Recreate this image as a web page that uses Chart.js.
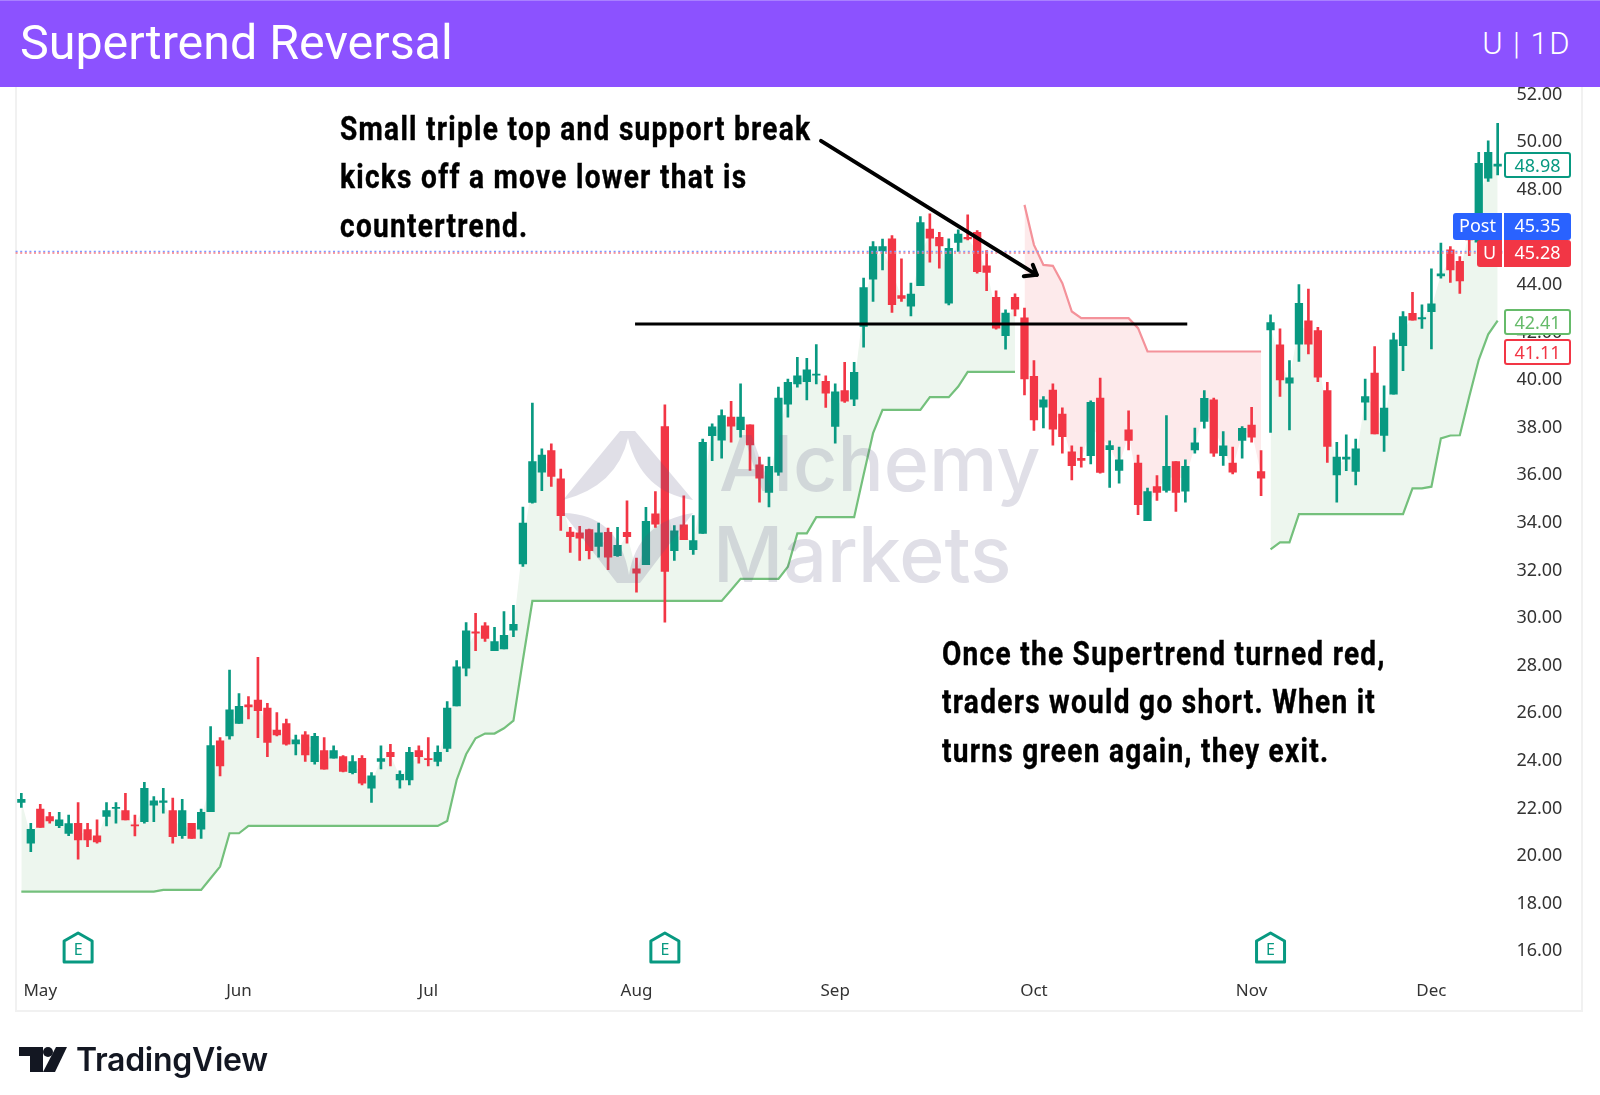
<!DOCTYPE html>
<html>
<head>
<meta charset="utf-8">
<title>Supertrend Reversal</title>
<script src="https://cdn.jsdelivr.net/npm/chart.js@4"></script>
<style>
  html, body { margin: 0; padding: 0; background: #fff; }
  #page { position: relative; width: 1600px; height: 1095px; overflow: hidden; background: #fff; }
  #chart { position: absolute; left: 0; top: 0; }
  .header { position: absolute; left: 0; top: 0; width: 1600px; height: 87px; background: #8c52ff; color: #fff; font-family: Roboto, sans-serif; border-top: 1px solid #a980ff; box-sizing: border-box; }
  .header .title { position: absolute; left: 20px; top: 12px; font-size: 48.4px; line-height: 60px; }
  .header .sym { position: absolute; right: 29px; top: 22px; font-size: 31px; line-height: 42px; letter-spacing: 1.5px; font-weight: 300; }
  .card { position: absolute; left: 15px; top: 87px; width: 1568px; height: 925px; border: solid #f1f1f1; border-width: 0 2px 2px 2px; box-sizing: border-box; }
  .note { position: absolute; font: 700 33px/48.3px Roboto, sans-serif; color: #000; white-space: nowrap; letter-spacing: 1.5px; -webkit-text-stroke: 0.4px #000; transform-origin: 0 0; transform: scaleX(0.85); }
  .wm { position: absolute; font: 500 77px/100px Inter, sans-serif; color: rgba(88, 84, 130, 0.19); white-space: nowrap; }
  .logo { position: absolute; left: 563px; top: 430px; }
  .tag { position: absolute; box-sizing: border-box; font: 18px/24px "Noto Sans", sans-serif; text-align: center; border-radius: 3px; }
  .footer { position: absolute; left: 76px; top: 1038px; font: 600 32px/44px Inter, sans-serif; color: #131722; letter-spacing: -0.3px; }
</style>
</head>
<body>
<div id="page">
  <div class="card"></div>
  <canvas id="chart" width="1600" height="1095"></canvas>

  <svg class="logo" width="140" height="160" viewBox="0 0 140 160">
    <path d="M57 1 L72 1 L130 70 Q78 62 65 8 Q54 56 0 70 Z" fill="rgba(88,84,130,0.19)"/>
    <path d="M0 83 Q56 84 66 145 Q74 92 130 83 L77 153 L54 153 Z" fill="rgba(88,84,130,0.19)"/>
  </svg>
  <div class="wm" style="left:719px;top:413px">Alchemy</div>
  <div class="wm" style="left:713px;top:504px">Markets</div>

  <div class="note" style="left:340px;top:105px">Small triple top and support break<br>kicks off a move lower that is<br>countertrend.</div>
  <div class="note" style="left:942px;top:630px">Once the Supertrend turned red,<br>traders would go short. When it<br>turns green again, they exit.</div>

  <div class="tag" style="left:1504px;top:152px;width:67px;height:26px;background:#fff;border:2px solid #089981;color:#089981;line-height:23px">48.98</div>
  <div class="tag" style="left:1453px;top:213px;width:49px;height:27px;background:#2962ff;color:#fff;border-radius:3px 0 0 3px">Post</div>
  <div class="tag" style="left:1504px;top:213px;width:67px;height:27px;background:#2962ff;color:#fff;border-radius:0 3px 3px 0">45.35</div>
  <div class="tag" style="left:1477px;top:240px;width:25px;height:27px;background:#f23645;color:#fff;border-radius:3px 0 0 3px">U</div>
  <div class="tag" style="left:1504px;top:240px;width:67px;height:27px;background:#f23645;color:#fff;border-radius:0 3px 3px 0">45.28</div>
  <div class="tag" style="left:1504px;top:309px;width:67px;height:26px;background:#fff;border:2px solid #66bb6a;color:#66bb6a;line-height:23px">42.41</div>
  <div class="tag" style="left:1504px;top:339px;width:67px;height:26px;background:#fff;border:2px solid #f23645;color:#f23645;line-height:23px">41.11</div>

  <div class="header">
    <div class="title">Supertrend Reversal</div>
    <div class="sym">U | 1D</div>
  </div>

  <svg style="position:absolute;left:19px;top:1047px" width="48" height="26" viewBox="0 0 48 26">
    <path d="M0 0 H24 V25 H11 V9 H0 Z" fill="#131722"/>
    <circle cx="29" cy="5" r="5" fill="#131722"/>
    <path d="M37 0 H48 L36 25 H24 Z" fill="#131722"/>
  </svg>
  <div class="footer">TradingView</div>
</div>

<script>
// U daily candles, May to mid December
const opens = [
  22.17,20.45,21.89,21.57,21.19,20.86,21.29,21.02,20.76,21.58,
  21.91,21.82,21.22,21.36,22.05,22.17,21.82,20.77,21.29,21.04,
  21.78,24.75,24.96,25.49,26.27,26.47,26.13,25.21,25.48,24.62,
  25.01,23.88,24.34,24.02,24.09,23.42,24.02,22.77,23.89,24.27,
  23.11,23.11,24.34,24.01,23.89,24.43,26.22,27.81,29.33,29.58,
  28.54,28.61,29.40,32.19,34.77,36.04,36.95,35.76,33.52,33.49,
  33.63,32.92,33.51,32.53,33.51,31.98,32.15,34.29,37.96,32.74,
  33.83,32.78,33.47,37.57,37.38,38.35,37.83,38.03,36.35,35.19,
  36.04,38.90,39.75,39.84,40.12,39.86,37.96,39.47,39.11,42.16,
  44.15,45.34,45.84,43.46,43.01,43.88,46.25,45.91,43.14,45.69,
  45.91,46.12,44.71,43.39,41.77,43.39,42.52,40.07,38.77,39.49,
  38.48,36.90,36.62,36.73,39.15,36.99,36.11,37.82,36.42,34.00,
  35.44,35.27,36.49,35.24,36.98,38.17,39.08,36.73,36.42,37.37,
  38.02,36.07,42.02,41.39,39.78,41.42,42.40,41.99,39.47,35.93,
  36.59,36.07,38.98,40.20,37.58,39.32,41.36,42.71,42.48,42.78,
  44.29,45.38,44.90,46.40,45.70,48.39,48.90,
];
const highs = [
  22.55,21.29,22.09,21.75,21.75,21.63,22.16,21.29,21.43,22.16,
  22.16,22.55,21.63,23.01,22.41,22.76,22.35,22.30,21.29,21.89,
  25.35,24.89,27.73,26.74,26.61,28.26,26.33,25.94,25.67,25.00,
  25.14,25.07,24.89,24.54,24.13,24.13,24.13,23.42,24.54,24.61,
  23.49,24.48,24.54,24.89,24.54,26.40,28.12,29.72,30.11,29.72,
  29.52,30.18,30.45,34.57,38.94,37.02,37.23,36.17,33.72,33.76,
  33.65,33.90,33.69,33.72,34.84,32.43,34.56,35.23,38.87,33.80,
  35.05,34.22,37.43,38.07,38.66,39.02,39.75,38.03,36.67,36.67,
  39.61,39.95,40.87,40.82,41.40,40.09,39.75,40.66,40.66,44.19,
  45.73,45.83,45.98,45.00,43.98,46.78,46.89,46.12,45.84,46.22,
  46.85,46.19,45.35,43.66,42.86,43.53,42.93,40.73,39.22,39.75,
  38.74,37.15,37.09,39.04,39.99,37.36,37.09,38.62,36.76,35.37,
  35.90,38.42,36.49,36.56,37.89,39.47,39.15,37.75,37.09,37.96,
  38.76,36.95,42.65,42.06,40.73,43.92,43.73,42.13,39.81,37.29,
  37.61,37.43,39.95,41.32,39.67,41.88,42.79,43.60,43.07,44.58,
  45.66,45.52,45.10,46.60,49.48,49.96,50.70,
];
const lows = [
  21.96,20.10,21.12,21.29,21.11,20.77,19.78,20.31,20.45,21.18,
  21.29,21.43,20.76,21.29,21.36,21.71,20.45,20.65,20.65,20.65,
  21.78,23.28,24.82,25.49,25.67,24.89,24.09,24.96,24.57,24.16,
  23.89,23.77,23.56,24.02,23.45,23.36,22.90,22.17,23.57,23.70,
  22.76,22.90,23.82,23.70,23.70,24.30,26.22,27.48,28.54,28.93,
  28.54,28.61,29.13,32.08,34.74,35.26,35.44,33.59,32.67,32.33,
  32.40,32.47,31.94,32.50,33.06,31.00,32.15,33.72,29.74,32.33,
  33.20,32.58,33.47,36.52,36.63,37.30,37.51,36.11,34.78,34.58,
  35.90,38.35,39.61,39.08,39.75,38.76,37.26,38.97,38.83,41.29,
  43.21,44.54,42.75,43.21,42.61,43.88,44.86,44.61,43.07,45.31,
  45.80,44.40,43.67,42.05,41.21,42.61,39.29,37.79,37.90,37.18,
  36.84,35.72,36.25,36.39,36.00,35.40,35.58,36.98,34.26,34.00,
  34.85,35.20,34.39,34.78,36.84,37.89,36.70,36.32,35.97,36.63,
  37.30,35.05,37.71,39.22,37.82,40.69,41.01,39.84,36.45,34.78,
  36.10,35.51,38.24,37.65,36.91,39.32,40.30,42.43,42.08,41.22,
  44.19,44.01,43.55,45.14,45.60,48.26,48.53,
];
const closes = [
  22.30,21.04,21.12,21.39,21.43,21.28,20.59,20.59,20.51,21.82,
  21.96,21.43,21.18,22.76,22.23,22.23,20.73,21.82,20.65,21.75,
  24.55,23.70,26.06,26.20,26.18,26.02,24.69,25.00,24.61,24.80,
  24.16,24.94,23.56,24.34,23.47,23.88,22.97,23.28,24.01,24.09,
  23.35,24.27,24.09,23.96,24.27,26.13,27.86,29.38,29.28,29.06,
  28.92,29.19,29.65,33.90,36.49,36.76,35.86,34.21,33.33,33.27,
  32.74,33.49,32.47,32.97,33.33,31.80,33.97,33.86,31.87,33.58,
  33.20,33.17,37.29,37.95,38.42,37.97,38.35,37.19,35.79,36.29,
  39.15,39.81,40.09,40.34,40.16,39.36,39.42,39.02,40.23,43.80,
  45.52,45.52,43.08,43.34,43.52,46.53,45.87,45.55,45.44,46.04,
  45.84,44.46,44.43,42.09,42.72,42.89,39.96,38.24,39.08,37.85,
  37.53,36.31,36.53,38.97,36.03,37.16,36.56,37.37,34.67,35.23,
  35.19,36.29,35.19,36.29,37.27,39.14,36.84,37.15,36.04,37.88,
  37.51,35.79,42.33,39.92,40.00,43.13,41.42,40.03,37.12,36.67,
  36.67,37.02,39.22,37.65,38.73,41.60,42.58,42.43,42.54,43.11,
  44.37,44.54,44.08,45.80,49.02,49.48,48.98,
];

// Supertrend, null where the other side is active
const supertrendUp = [
  18.42,18.42,18.42,18.42,18.42,18.42,18.42,18.42,18.42,18.42,
  18.42,18.42,18.42,18.42,18.42,18.49,18.49,18.49,18.49,18.49,
  18.98,19.47,20.87,20.87,21.18,21.18,21.18,21.18,21.18,21.18,
  21.18,21.18,21.18,21.18,21.18,21.18,21.18,21.18,21.18,21.18,
  21.18,21.18,21.18,21.18,21.18,21.39,23.11,24.19,24.86,25.06,
  25.06,25.28,25.60,28.15,30.63,30.63,30.63,30.63,30.63,30.63,
  30.63,30.63,30.63,30.63,30.63,30.63,30.63,30.63,30.63,30.63,
  30.63,30.63,30.63,30.63,30.63,31.09,31.56,31.56,31.56,31.56,
  31.56,32.07,33.47,33.47,34.15,34.15,34.15,34.15,34.15,35.93,
  37.68,38.66,38.66,38.66,38.66,38.66,39.19,39.19,39.19,39.64,
  40.25,40.25,40.25,40.25,40.25,40.25,null,null,null,null,
  null,null,null,null,null,null,null,null,null,null,
  null,null,null,null,null,null,null,null,null,null,
  null,null,32.80,33.09,33.09,34.28,34.28,34.28,34.28,34.28,
  34.28,34.28,34.28,34.28,34.28,34.28,34.28,35.36,35.36,35.43,
  37.46,37.58,37.59,39.22,40.76,41.83,42.41,
];
const supertrendDown = [
  null,null,null,null,null,null,null,null,null,null,
  null,null,null,null,null,null,null,null,null,null,
  null,null,null,null,null,null,null,null,null,null,
  null,null,null,null,null,null,null,null,null,null,
  null,null,null,null,null,null,null,null,null,null,
  null,null,null,null,null,null,null,null,null,null,
  null,null,null,null,null,null,null,null,null,null,
  null,null,null,null,null,null,null,null,null,null,
  null,null,null,null,null,null,null,null,null,null,
  null,null,null,null,null,null,null,null,null,null,
  null,null,null,null,null,null,47.27,45.59,44.75,44.71,
  43.98,42.79,42.51,42.51,42.51,42.51,42.51,42.51,42.09,41.11,
  41.11,41.11,41.11,41.11,41.11,41.11,41.11,41.11,41.11,41.11,
  41.11,41.11,null,null,null,null,null,null,null,null,
  null,null,null,null,null,null,null,null,null,null,
  null,null,null,null,null,null,null,
];

const monthLabels = ['May', 'Jun', 'Jul', 'Aug', 'Sep', 'Oct', 'Nov', 'Dec'];
const monthBars = [2, 23, 43, 65, 86, 107, 130, 149];
const earningsBars = [6, 68, 132];
const yTicksStep = 2;
const lastPrice = 45.28;
const supportPrice = 42.27;
const supportFrom = 64.85, supportTo = 123.2;
const arrowFrom = [84.5, 49.96], arrowTo = [107.3, 44.33];

const up = '#089981', down = '#f23645';
const bodyColors = closes.map((c, i) => (c >= opens[i] ? up : down));
const bars = closes.map((_, i) => i);
const mid = (line) => line.map((v, i) => (v === null ? null : (opens[i] + closes[i]) / 2));

const annotations = {
  id: 'annotations',
  afterDatasetsDraw(chart) {
    const { ctx, scales: { x, y }, chartArea } = chart;
    ctx.save();

    // last price dotted lines, the post one (blue) sits just over the red one
    const py = y.getPixelForValue(lastPrice);
    ctx.lineWidth = 1.4;
    ctx.setLineDash([2, 2.6]);
    ctx.strokeStyle = '#7f98ff';
    ctx.beginPath(); ctx.moveTo(chartArea.left - 1, py - 0.7); ctx.lineTo(chartArea.right, py - 0.7); ctx.stroke();
    ctx.strokeStyle = '#f57f88';
    ctx.beginPath(); ctx.moveTo(chartArea.left - 1, py + 0.7); ctx.lineTo(chartArea.right, py + 0.7); ctx.stroke();
    ctx.setLineDash([]);

    // support line
    const sy = y.getPixelForValue(supportPrice);
    ctx.strokeStyle = '#000';
    ctx.lineWidth = 3;
    ctx.beginPath();
    ctx.moveTo(x.getPixelForValue(supportFrom), sy);
    ctx.lineTo(x.getPixelForValue(supportTo), sy);
    ctx.stroke();

    // arrow
    const ax = x.getPixelForValue(arrowFrom[0]), ay = y.getPixelForValue(arrowFrom[1]);
    const bx = x.getPixelForValue(arrowTo[0]), by = y.getPixelForValue(arrowTo[1]);
    ctx.lineWidth = 4;
    ctx.lineCap = 'round';
    ctx.lineJoin = 'round';
    ctx.beginPath(); ctx.moveTo(ax, ay); ctx.lineTo(bx, by); ctx.stroke();
    ctx.beginPath(); ctx.moveTo(bx - 13, by + 1.5); ctx.lineTo(bx, by); ctx.lineTo(bx - 4, by - 10); ctx.stroke();

    // earnings flags
    earningsBars.forEach((b) => {
      const cx = x.getPixelForValue(b), t = 933, bot = 962, hw = 14;
      ctx.strokeStyle = up;
      ctx.lineWidth = 3;
      ctx.beginPath();
      ctx.moveTo(cx, t);
      ctx.lineTo(cx + hw, t + 8);
      ctx.lineTo(cx + hw, bot);
      ctx.lineTo(cx - hw, bot);
      ctx.lineTo(cx - hw, t + 8);
      ctx.closePath();
      ctx.stroke();
      ctx.fillStyle = up;
      ctx.font = '16px "Noto Sans", sans-serif';
      ctx.textAlign = 'center';
      ctx.textBaseline = 'middle';
      ctx.fillText('E', cx, 950);
    });
    ctx.restore();
  },
};

new Chart(document.getElementById('chart'), {
  type: 'bar',
  data: {
    labels: bars,
    datasets: [
      { type: 'line', label: 'Supertrend up', data: supertrendUp, borderColor: '#74c07c', borderWidth: 2.2, pointRadius: 0, tension: 0, spanGaps: false, order: 4 },
      { type: 'line', label: 'Supertrend down', data: supertrendDown, borderColor: '#f4929a', borderWidth: 2.2, pointRadius: 0, tension: 0, spanGaps: false, order: 4 },
      { type: 'line', label: 'Up fill', data: mid(supertrendUp), borderWidth: 0, pointRadius: 0, tension: 0, spanGaps: false, order: 5,
        fill: { target: 0, above: '#edf6ee', below: '#edf6ee' } },
      { type: 'line', label: 'Down fill', data: mid(supertrendDown), borderWidth: 0, pointRadius: 0, tension: 0, spanGaps: false, order: 5,
        fill: { target: 1, above: '#fdeaeb', below: '#fdeaeb' } },
      { label: 'Wick', data: lows.map((l, i) => [l, highs[i]]), backgroundColor: bodyColors, barThickness: 2, grouped: false, order: 2 },
      { label: 'Body', data: opens.map((o, i) => [o, closes[i]]), backgroundColor: bodyColors, barThickness: 7.6, grouped: false, order: 1 },
    ],
  },
  options: {
    responsive: false,
    animation: false,
    events: [],
    layout: { padding: { left: 16.6, top: 88, right: 0, bottom: 0 } },
    plugins: { legend: { display: false }, tooltip: { enabled: false } },
    scales: {
      x: {
        offset: true,
        grid: { display: false, drawTicks: false },
        border: { display: false },
        afterFit: (s) => { s.height = 127; },
        ticks: {
          autoSkip: false, maxRotation: 0, padding: 13,
          color: '#333', font: { family: '"Noto Sans", sans-serif', size: 17 },
          callback: (v, i) => { const m = monthBars.indexOf(i); return m < 0 ? null : monthLabels[m]; },
        },
      },
      // price scale the marks sit on
      y: { display: false, min: 15.21, max: 52.18 },
      // same range, only carries the labels, nudged 2px to sit like the original
      yLabels: {
        position: 'right',
        min: 15.30, max: 52.27,
        grid: { display: false, drawTicks: false },
        border: { display: false },
        afterFit: (s) => { s.width = 97.6; },
        ticks: {
          stepSize: yTicksStep, includeBounds: false, padding: 14,
          color: '#333', font: { family: '"Noto Sans", sans-serif', size: 18 },
          callback: (v) => v.toFixed(2),
        },
      },
    },
  },
  plugins: [annotations],
});
</script>
</body>
</html>
